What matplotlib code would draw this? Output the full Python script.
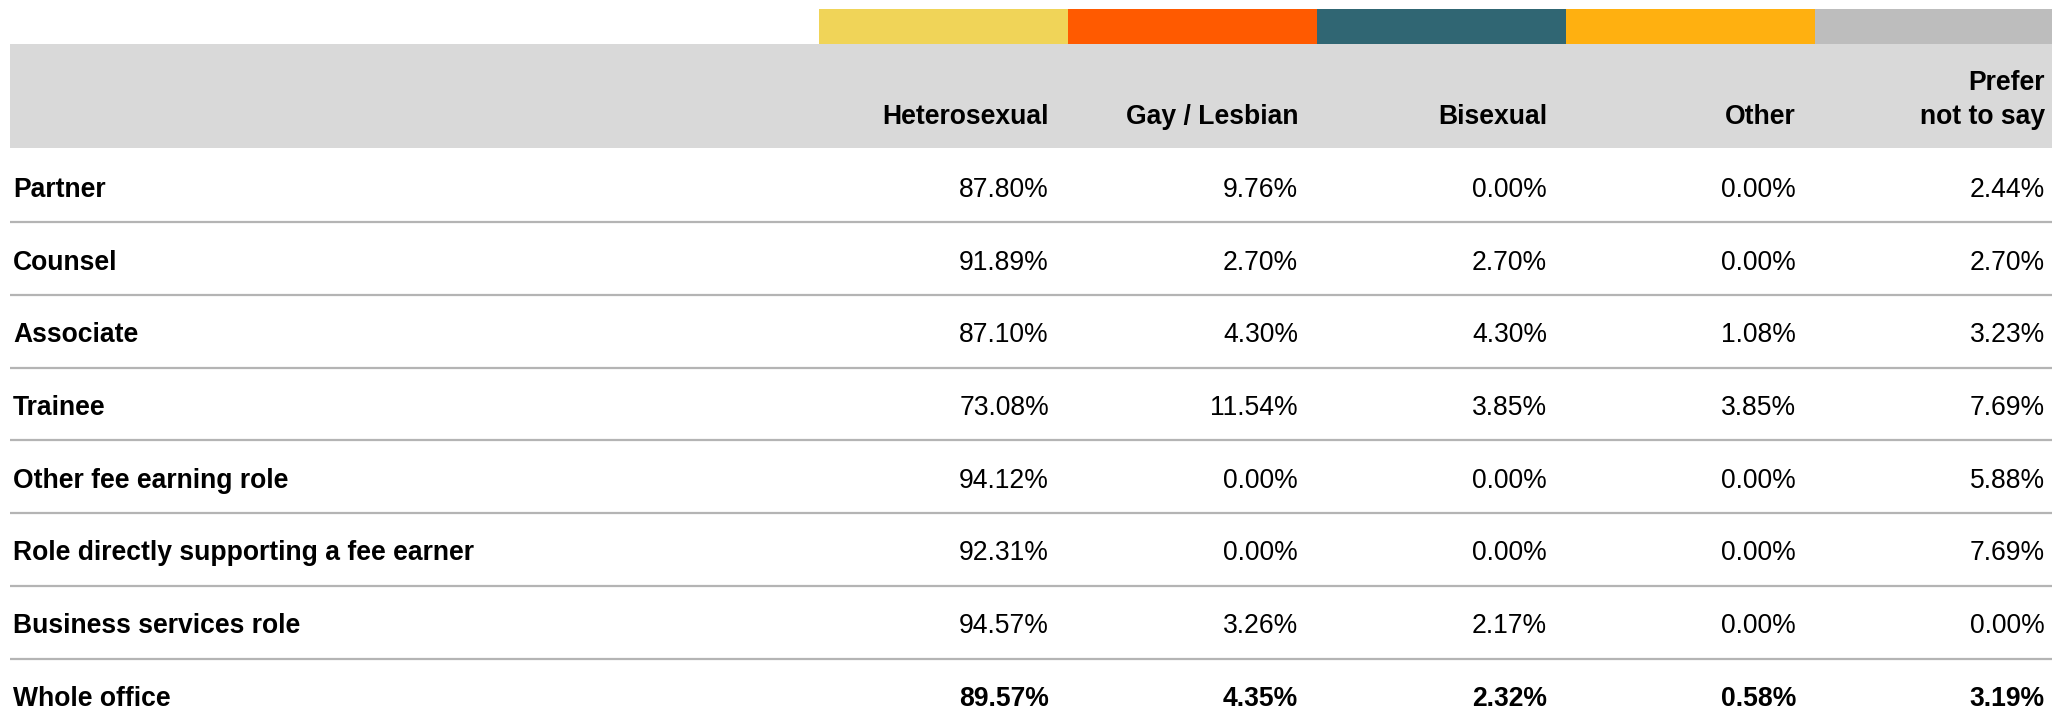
import matplotlib
matplotlib.use("Agg")
import matplotlib.pyplot as plt
from matplotlib.patches import Rectangle

plt.rcParams['font.family'] = ['Liberation Sans', 'DejaVu Sans']

columns = ["Heterosexual", "Gay / Lesbian", "Bisexual", "Other", "Prefer\nnot to say"]
column_colors = ["#F0D458", "#FF5A00", "#306673", "#FFB010", "#BDBDBD"]
roles = ["Partner", "Counsel", "Associate", "Trainee", "Other fee earning role",
         "Role directly supporting a fee earner", "Business services role", "Whole office"]
heterosexual = [87.80, 91.89, 87.10, 73.08, 94.12, 92.31, 94.57, 89.57]
gay_lesbian = [9.76, 2.70, 4.30, 11.54, 0.00, 0.00, 3.26, 4.35]
bisexual = [0.00, 2.70, 4.30, 3.85, 0.00, 0.00, 2.17, 2.32]
other = [0.00, 0.00, 1.08, 3.85, 0.00, 0.00, 0.00, 0.58]
prefer_not = [2.44, 2.70, 3.23, 7.69, 5.88, 7.69, 0.00, 3.19]
series = [heterosexual, gay_lesbian, bisexual, other, prefer_not]

W, H = 2052, 708
fig = plt.figure(figsize=(W / 100, H / 100), dpi=100)
ax = fig.add_axes([0, 0, 1, 1])
ax.set_xlim(0, W)
ax.set_ylim(H, 0)
ax.axis('off')

fs = 19.1
col_start = 819
col_w = 249
pad = 19


def col_right(j):
    return 2045 if j == len(columns) - 1 else col_start + (j + 1) * col_w - pad


# colour strips
for j, c in enumerate(column_colors):
    ax.add_patch(Rectangle((col_start + j * col_w, 9), col_w, 34.5, color=c, lw=0))
# header background
ax.add_patch(Rectangle((10, 43.5), W - 10, 104, color="#D9D9D9", lw=0))

header_line_y = [80, 114]
for j, name in enumerate(columns):
    lines = name.split("\n")
    ys = header_line_y[-len(lines):]
    for line, y in zip(lines, ys):
        ax.text(col_right(j), y, line, ha='right', va='center_baseline',
                fontsize=fs, fontweight='bold')

row0 = 186
row_h = 72.7
for i, role in enumerate(roles):
    yc = row0 + i * row_h
    bold_vals = (i == len(roles) - 1)
    ax.text(13, yc + 1, role, ha='left', va='center_baseline', fontsize=fs, fontweight='bold')
    for j, s in enumerate(series):
        ax.text(col_right(j), yc + 1, f"{s[i]:.2f}%", ha='right', va='center_baseline',
                fontsize=fs, fontweight='bold' if bold_vals else 'normal')
    if i < len(roles) - 1:
        yl = yc + row_h / 2
        ax.plot([10, W], [yl, yl], color="#B4B4B4", lw=1.6, solid_capstyle='butt')

fig.savefig("out.png", dpi=100, facecolor='white')
